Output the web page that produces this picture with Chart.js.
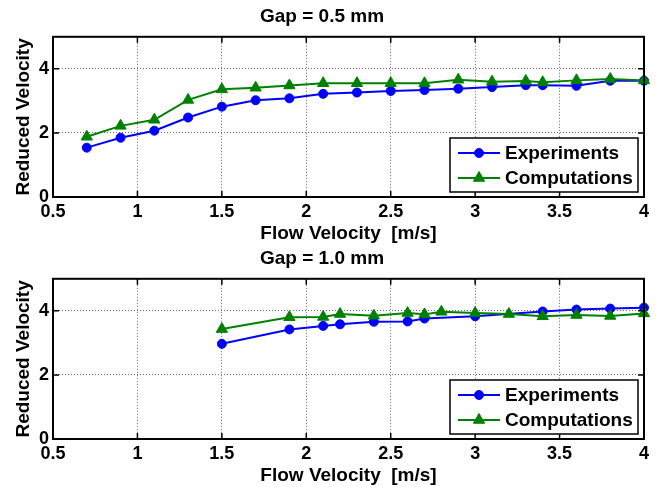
<!DOCTYPE html>
<html>
<head>
<meta charset="utf-8">
<script src="https://cdn.jsdelivr.net/npm/chart.js@4.4.1/dist/chart.umd.min.js"></script>
<style>
  html, body { margin: 0; padding: 0; background: #fff; }
  .panel { position: absolute; left: 0; width: 657px; height: 245px; }
  #top { top: 0; }
  #bottom { top: 242px; }
</style>
</head>
<body>
<div class="panel" id="top"><canvas id="chartTop" width="657" height="245"></canvas></div>
<div class="panel" id="bottom"><canvas id="chartBottom" width="657" height="245"></canvas></div>
<script>
// axis ticks (same for both panels)
const xTicks = [0.5, 1, 1.5, 2, 2.5, 3, 3.5, 4];
const yTicks = [0, 2, 4];

// Gap = 0.5 mm
const gap05X = [0.7, 0.9, 1.1, 1.3, 1.5, 1.7, 1.9, 2.1, 2.3, 2.5, 2.7, 2.9, 3.1, 3.3, 3.4, 3.6, 3.8, 4.0];
const gap05Exp = [1.54, 1.85, 2.07, 2.48, 2.82, 3.02, 3.08, 3.22, 3.26, 3.31, 3.34, 3.38, 3.43, 3.49, 3.49, 3.47, 3.63, 3.63];
const gap05Comp = [1.88, 2.22, 2.41, 3.03, 3.36, 3.41, 3.48, 3.55, 3.55, 3.55, 3.55, 3.66, 3.60, 3.62, 3.58, 3.64, 3.68, 3.64];

// Gap = 1.0 mm
const gap10ExpX = [1.5, 1.9, 2.1, 2.2, 2.4, 2.6, 2.7, 3.0, 3.4, 3.6, 3.8, 4.0];
const gap10Exp = [2.97, 3.42, 3.53, 3.58, 3.66, 3.67, 3.76, 3.83, 3.98, 4.04, 4.07, 4.10];
const gap10CompX = [1.5, 1.9, 2.1, 2.2, 2.4, 2.6, 2.7, 2.8, 3.0, 3.2, 3.4, 3.6, 3.8, 4.0];
const gap10Comp = [3.43, 3.80, 3.81, 3.90, 3.85, 3.93, 3.89, 3.97, 3.93, 3.90, 3.83, 3.87, 3.84, 3.92];

const FONT = 'Liberation Sans, Arial, Helvetica, sans-serif';
Chart.defaults.font.family = FONT;
Chart.defaults.font.weight = 'bold';
Chart.defaults.color = '#000';

function toPoints(xs, ys) {
  return xs.map((x, i) => ({ x: x, y: ys[i] }));
}

// matlab style box, inward ticks and legend
const framePlugin = {
  id: 'frame',
  afterDraw(chart) {
    const ctx = chart.ctx;
    const a = chart.chartArea;
    const xs = chart.scales.x, ys = chart.scales.y;
    ctx.save();
    ctx.setLineDash([]);
    ctx.strokeStyle = '#000';
    ctx.lineWidth = 1.5;
    ctx.beginPath();
    xTicks.forEach(v => {
      const px = xs.getPixelForValue(v);
      ctx.moveTo(px, a.bottom); ctx.lineTo(px, a.bottom - 6);
      ctx.moveTo(px, a.top); ctx.lineTo(px, a.top + 6);
    });
    yTicks.forEach(v => {
      const py = ys.getPixelForValue(v);
      ctx.moveTo(a.left, py); ctx.lineTo(a.left + 6, py);
      ctx.moveTo(a.right, py); ctx.lineTo(a.right - 6, py);
    });
    ctx.stroke();
    ctx.lineWidth = 2;
    ctx.strokeRect(a.left, a.top, a.right - a.left, a.bottom - a.top);

    // legend box
    const w = 188, h = 54;
    const bx = a.right - 6 - w, by = a.bottom - 5 - h;
    ctx.fillStyle = '#fff';
    ctx.fillRect(bx, by, w, h);
    ctx.lineWidth = 1.5;
    ctx.strokeRect(bx, by, w, h);
    ctx.font = 'bold 19px ' + FONT;
    ctx.textBaseline = 'middle';
    ctx.textAlign = 'left';
    chart.data.datasets.forEach((ds, i) => {
      const ry = by + 15 + i * 25;
      ctx.strokeStyle = ds.borderColor;
      ctx.fillStyle = ds.backgroundColor;
      ctx.lineWidth = 2;
      ctx.beginPath();
      ctx.moveTo(bx + 8, ry); ctx.lineTo(bx + 50, ry);
      ctx.stroke();
      ctx.lineWidth = 1;
      Chart.helpers.drawPoint(ctx, { pointStyle: ds.pointStyle, radius: ds.pointRadius, rotation: 0, borderWidth: 1 }, bx + 29, ry);
      ctx.fillStyle = '#000';
      ctx.fillText(ds.label, bx + 55, ry + 1);
    });
    ctx.restore();
  }
};

function makeChart(canvasId, title, expX, expY, compX, compY) {
  const ctx = document.getElementById(canvasId).getContext('2d');
  return new Chart(ctx, {
    type: 'scatter',
    data: {
      datasets: [{
        label: 'Experiments',
        data: toPoints(expX, expY),
        showLine: true,
        borderColor: '#0000ff',
        backgroundColor: '#0000ff',
        borderWidth: 2,
        pointStyle: 'circle',
        pointRadius: 4.5,
        pointBorderWidth: 1,
        clip: false,
        order: 1
      }, {
        label: 'Computations',
        data: toPoints(compX, compY),
        showLine: true,
        borderColor: '#008000',
        backgroundColor: '#008000',
        borderWidth: 2,
        pointStyle: 'triangle',
        pointRadius: 6.5,
        pointBorderWidth: 1,
        clip: false,
        order: 0
      }]
    },
    options: {
      responsive: false,
      animation: false,
      layout: { padding: { left: 0, right: 13, top: 0, bottom: 0 } },
      plugins: {
        legend: { display: false },
        tooltip: { enabled: false },
        title: {
          display: true,
          text: title,
          color: '#000',
          font: { size: 19, weight: 'bold' },
          padding: { top: 5, bottom: 9 }
        }
      },
      scales: {
        x: {
          type: 'linear',
          min: 0.5,
          max: 4,
          afterBuildTicks: s => { s.ticks = xTicks.map(v => ({ value: v })); },
          afterFit: s => { s.height = 48; },
          ticks: {
            font: { size: 18, weight: 'bold' }, color: '#000', padding: 4,
            maxRotation: 0, autoSkip: false,
            callback: v => String(v)
          },
          grid: { color: '#666', lineWidth: 1, drawTicks: false },
          border: { display: false, dash: [1, 2] },
          title: {
            display: true,
            text: 'Flow Velocity  [m/s]',
            color: '#000',
            font: { size: 19, weight: 'bold' },
            padding: { top: 0, bottom: 0 }
          }
        },
        y: {
          min: 0,
          max: 5,
          afterBuildTicks: s => { s.ticks = yTicks.map(v => ({ value: v })); },
          afterFit: s => { s.width = 53; },
          ticks: { font: { size: 18, weight: 'bold' }, color: '#000', padding: 4, callback: v => String(v) },
          grid: { color: '#666', lineWidth: 1, drawTicks: false },
          border: { display: false, dash: [1, 2] },
          title: {
            display: true,
            text: 'Reduced Velocity',
            color: '#000',
            font: { size: 19, weight: 'bold' },
            padding: { top: 12, bottom: 0 }
          }
        }
      }
    },
    plugins: [framePlugin]
  });
}

makeChart('chartTop', 'Gap = 0.5 mm', gap05X, gap05Exp, gap05X, gap05Comp);
makeChart('chartBottom', 'Gap = 1.0 mm', gap10ExpX, gap10Exp, gap10CompX, gap10Comp);
</script>
</body>
</html>
